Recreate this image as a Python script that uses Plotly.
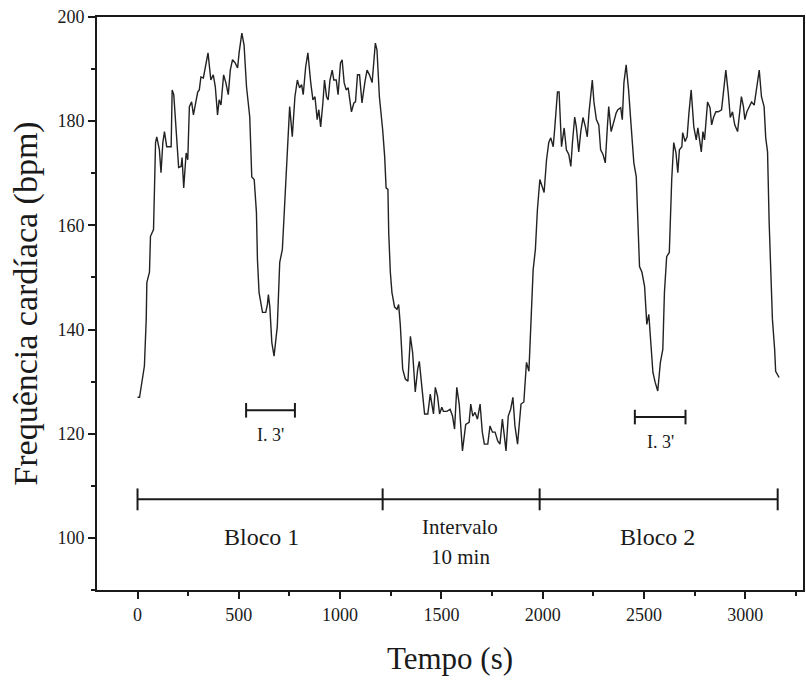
import plotly.graph_objects as go

# ---- heart-rate trace ----
time_s = [0, 10, 34, 43, 46, 59, 64, 79, 84, 89, 95, 108, 116, 125, 133, 144, 166, 171, 179, 190,
          203, 215, 220, 228, 240, 248, 256, 267, 276, 285, 297, 305, 313, 325, 335, 348, 362, 374,
          384, 395, 403, 412, 425, 436, 448, 458, 469, 482, 494, 502, 515, 526, 538, 554, 564, 576,
          587, 592, 600, 617, 633, 641, 646, 653, 663, 674, 690, 702, 715, 728, 740, 751, 764, 777,
          789, 800, 810, 818, 830, 841, 855, 866, 876, 887, 895, 904, 915, 923, 933, 941, 950, 961,
          969, 981, 990, 1002, 1010, 1020, 1030, 1040, 1056, 1068, 1076, 1086, 1096, 1108, 1122,
          1133, 1145, 1158, 1166, 1174, 1182, 1194, 1210, 1220, 1227, 1236, 1240, 1248, 1256, 1269,
          1281, 1289, 1297, 1309, 1322, 1335, 1347, 1358, 1371, 1383, 1391, 1401, 1417, 1433, 1445,
          1453, 1461, 1470, 1481, 1491, 1502, 1510, 1527, 1543, 1555, 1565, 1576, 1588, 1604, 1620,
          1637, 1645, 1655, 1666, 1678, 1691, 1702, 1712, 1729, 1740, 1752, 1765, 1778, 1789, 1801,
          1811, 1819, 1830, 1842, 1853, 1863, 1876, 1893, 1907, 1920, 1932, 1945, 1953, 1964, 1974,
          1986, 1998, 2007, 2019, 2030, 2040, 2052, 2060, 2073, 2081, 2093, 2106, 2117, 2129, 2139,
          2147, 2158, 2166, 2178, 2188, 2199, 2211, 2220, 2229, 2237, 2245, 2253, 2265, 2277, 2286,
          2298, 2309, 2319, 2326, 2338, 2352, 2363, 2371, 2385, 2393, 2401, 2412, 2424, 2437, 2450,
          2462, 2470, 2478, 2490, 2503, 2514, 2524, 2535, 2544, 2555, 2568, 2581, 2593, 2601, 2612,
          2625, 2637, 2647, 2658, 2667, 2675, 2687, 2691, 2703, 2713, 2722, 2733, 2746, 2758, 2766,
          2775, 2783, 2791, 2799, 2814, 2826, 2834, 2844, 2855, 2867, 2883, 2893, 2904, 2916, 2926,
          2937, 2948, 2962, 2970, 2981, 2991, 2998, 3008, 3020, 3031, 3044, 3054, 3069, 3080, 3093,
          3101, 3110, 3118, 3126, 3134, 3145, 3150, 3167]
bpm = [127.0, 127.0, 133.0, 142.0, 149.0, 151.0, 157.9, 159.2, 167.4, 175.9, 177.0, 174.5, 170.1,
       175.9, 178.0, 175.1, 175.1, 186.0, 185.1, 177.8, 171.1, 171.3, 173.0, 167.2, 173.9, 172.6,
       182.8, 183.7, 181.2, 183.1, 185.6, 186.0, 188.5, 188.3, 190.2, 193.1, 187.9, 188.9, 186.6,
       181.2, 184.1, 183.1, 188.9, 187.4, 185.1, 189.8, 191.8, 191.2, 190.2, 193.3, 196.9, 194.6,
       186.6, 180.8, 169.3, 168.8, 162.5, 153.4, 147.1, 143.3, 143.3, 144.8, 146.7, 144.4, 137.5,
       134.9, 140.6, 152.9, 155.4, 166.3, 175.1, 182.8, 177.0, 184.7, 187.9, 186.4, 187.0, 185.1,
       190.4, 193.1, 187.4, 184.1, 184.7, 180.3, 182.2, 178.9, 183.5, 187.9, 184.7, 184.1, 187.9,
       189.8, 187.9, 187.9, 185.1, 191.2, 191.8, 187.4, 186.0, 186.4, 181.8, 183.5, 183.7, 188.9,
       188.9, 183.5, 187.4, 189.8, 188.9, 187.4, 191.2, 195.0, 193.7, 184.7, 178.4, 173.2, 167.2,
       166.9, 158.6, 151.0, 147.1, 144.3, 143.9, 144.8, 141.0, 132.4, 130.5, 130.1, 138.7, 135.6,
       128.0, 132.4, 133.9, 130.5, 123.8, 123.8, 127.6, 125.7, 123.8, 128.9, 127.2, 123.8, 125.1,
       124.3, 124.3, 124.7, 123.4, 120.9, 128.9, 125.7, 116.7, 121.8, 122.2, 125.7, 123.4, 124.1,
       122.8, 125.7, 120.3, 118.0, 118.0, 121.5, 120.3, 120.3, 118.6, 118.0, 122.8, 119.5, 116.7,
       123.4, 124.7, 127.0, 121.5, 118.0, 125.7, 126.1, 133.7, 132.0, 143.9, 151.5, 155.4, 163.0,
       168.8, 167.4, 166.3, 172.6, 175.9, 176.8, 175.1, 178.9, 185.6, 185.6, 175.1, 178.7, 174.5,
       173.6, 171.3, 175.9, 180.8, 178.9, 174.1, 178.0, 180.7, 178.9, 177.0, 181.8, 184.7, 187.9,
       183.7, 180.3, 179.3, 174.5, 173.6, 172.0, 178.7, 182.8, 178.0, 180.3, 181.6, 182.2, 182.6,
       180.3, 187.4, 190.8, 186.0, 178.9, 172.0, 169.3, 159.8, 152.1, 151.0, 148.3, 141.0, 142.9,
       136.8, 131.8, 129.9, 128.2, 133.7, 136.2, 147.1, 154.0, 154.8, 168.8, 175.9, 173.9, 170.1,
       174.5, 175.1, 177.8, 176.1, 177.0, 181.6, 186.0, 178.9, 176.4, 178.7, 176.4, 174.1, 178.0,
       176.4, 183.7, 182.6, 179.3, 180.8, 181.8, 181.8, 182.2, 186.0, 189.8, 185.4, 180.7, 181.8,
       179.3, 178.0, 181.2, 184.7, 182.8, 180.3, 181.8, 182.8, 183.7, 183.1, 185.6, 189.8, 184.7,
       182.8, 176.8, 174.1, 160.5, 151.0, 142.0, 136.2, 132.0, 130.8]

# ---- session phases ----
phase_bounds = [0, 1210, 1985, 3160]
phase_bar_y = 107.4
phase_tick_half = 2.1
phase_texts = ["Bloco 1", "Intervalo", "10 min", "Bloco 2"]
phase_text_x = [610, 1594, 1594, 2568]
phase_text_y = [100.2, 102.1, 96.4, 100.2]
phase_text_size = [24, 21, 21, 24]

# ---- 3-minute recovery markers ----
rec_start = [536, 2455]
rec_end = [777, 2705]
rec_y = [124.5, 123.2]
rec_tick_half = 1.4
rec_label = ["I. 3'", "I. 3'"]
rec_label_y = [119.7, 118.4]

x_ticks = [0, 500, 1000, 1500, 2000, 2500, 3000]
y_ticks = [100, 120, 140, 160, 180, 200]

FONT = "Liberation Serif"
INK = "#1a1a1a"

fig = go.Figure()
fig.add_trace(go.Scatter(x=time_s, y=bpm, mode="lines",
                         line=dict(color="#222222", width=1.4), hoverinfo="skip"))

# phase bar
bx, by = [phase_bounds[0], phase_bounds[-1], None], [phase_bar_y, phase_bar_y, None]
for b in phase_bounds:
    bx += [b, b, None]
    by += [phase_bar_y - phase_tick_half, phase_bar_y + phase_tick_half, None]
fig.add_trace(go.Scatter(x=bx, y=by, mode="lines", line=dict(color=INK, width=2), hoverinfo="skip"))

# recovery brackets
for s, e, yy in zip(rec_start, rec_end, rec_y):
    fig.add_trace(go.Scatter(
        x=[s, e, None, s, s, None, e, e],
        y=[yy, yy, None, yy - rec_tick_half, yy + rec_tick_half, None, yy - rec_tick_half, yy + rec_tick_half],
        mode="lines", line=dict(color=INK, width=2), hoverinfo="skip"))

for t, xx, yy, fs in zip(phase_texts, phase_text_x, phase_text_y, phase_text_size):
    fig.add_annotation(x=xx, y=yy, text=t, showarrow=False,
                       font=dict(family=FONT, size=fs, color=INK))
for t, s, e, yy in zip(rec_label, rec_start, rec_end, rec_label_y):
    fig.add_annotation(x=(s + e) / 2, y=yy, text=t, showarrow=False,
                       font=dict(family=FONT, size=18, color=INK))

fig.update_layout(
    width=806, height=682,
    margin=dict(l=97, r=1, t=17, b=92),
    paper_bgcolor="white", plot_bgcolor="white",
    showlegend=False,
    font=dict(family=FONT, color=INK),
)
fig.update_xaxes(
    range=[-200, 3285], tickvals=x_ticks, ticktext=[str(v) for v in x_ticks],
    showgrid=False, zeroline=False, showline=True, mirror=True, linecolor=INK, linewidth=2,
    ticks="outside", ticklen=7, tickwidth=1.5, tickcolor=INK,
    minor=dict(dtick=250, tick0=0, ticks="outside", ticklen=4, tickwidth=1.5, tickcolor=INK),
    tickfont=dict(family=FONT, size=18, color=INK),
    title=dict(text="Tempo (s)", font=dict(family=FONT, size=31, color=INK), standoff=24),
)
fig.update_yaxes(
    range=[90, 200], tickvals=y_ticks, ticktext=[str(v) for v in y_ticks],
    showgrid=False, zeroline=False, showline=True, mirror=True, linecolor=INK, linewidth=2,
    ticks="outside", ticklen=7, tickwidth=1.5, tickcolor=INK,
    minor=dict(dtick=10, tick0=0, ticks="outside", ticklen=4, tickwidth=1.5, tickcolor=INK),
    tickfont=dict(family=FONT, size=18, color=INK),
    title=dict(text="Frequência cardíaca (bpm)", font=dict(family=FONT, size=34, color=INK), standoff=10),
)

fig.write_html("out.html")
